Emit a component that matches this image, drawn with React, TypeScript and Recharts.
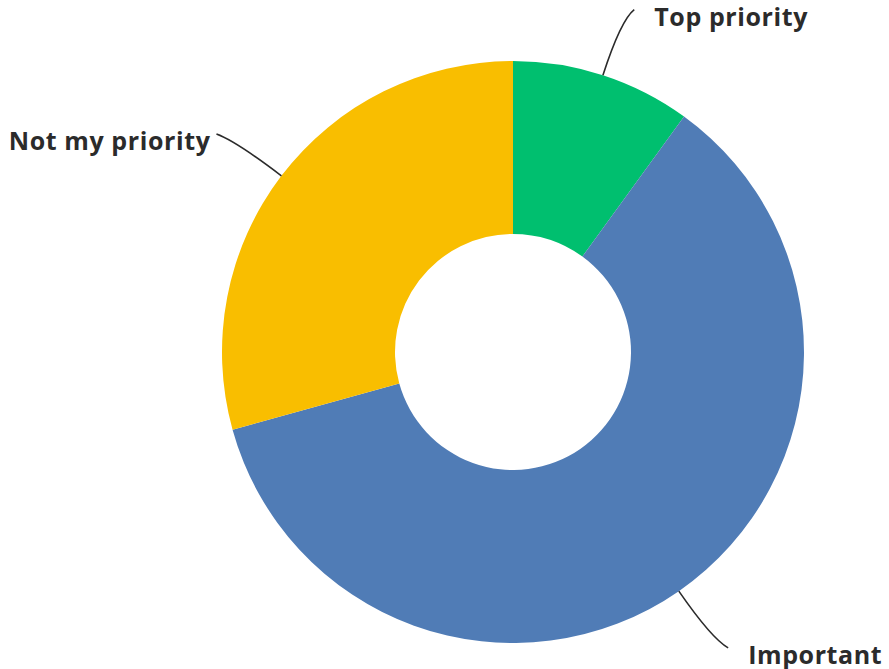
import { PieChart, Pie, Cell } from 'recharts';

const labels = ['Top priority', 'Important', 'Not my priority'];
const shares = [10, 60.7, 29.3];
const colors = ['#00BF6F', '#507CB6', '#F9BE00'];

const data = labels.map((name, i) => ({ name, value: shares[i] }));

const RADIAN = Math.PI / 180;

function CurvedLabel(props: any) {
  const { cx, cy, midAngle, outerRadius, name } = props;
  const cos = Math.cos(-midAngle * RADIAN);
  const sin = Math.sin(-midAngle * RADIAN);
  const right = cos >= 0;
  const sx = cx + outerRadius * cos;
  const sy = cy + outerRadius * sin;
  const mx = cx + (outerRadius + 58) * cos;
  const my = cy + (outerRadius + 58) * sin;
  const ex = cx + (outerRadius + 69) * cos + (right ? 10 : -10);
  const ey = cy + (outerRadius + 69) * sin;
  return (
    <g>
      <path d={`M${sx},${sy} Q${mx},${my} ${ex},${ey}`} stroke="#2b2b2b" strokeWidth={1.6} fill="none" />
      <text
        x={right ? ex + 20 : ex - 6}
        y={ey + 6}
        textAnchor={right ? 'start' : 'end'}
        dominantBaseline="central"
        fill="#2b2b2b"
        fontSize={25}
        letterSpacing={0.6}
        fontWeight={700}
        fontFamily="'Open Sans', sans-serif"
      >
        {name}
      </text>
    </g>
  );
}

export default function App() {
  return (
    <div style={{ position: 'absolute', left: 0, top: 0, background: '#fff' }}>
      <PieChart width={889} height={669} margin={{ top: 0, right: 0, bottom: 0, left: 0 }}>
        <Pie
          data={data}
          dataKey="value"
          nameKey="name"
          cx={513}
          cy={352}
          innerRadius={118}
          outerRadius={291}
          startAngle={90}
          endAngle={-270}
          stroke="none"
          labelLine={false}
          label={CurvedLabel}
          isAnimationActive={false}
        >
          {data.map((d, i) => (
            <Cell key={d.name} fill={colors[i]} />
          ))}
        </Pie>
      </PieChart>
    </div>
  );
}
